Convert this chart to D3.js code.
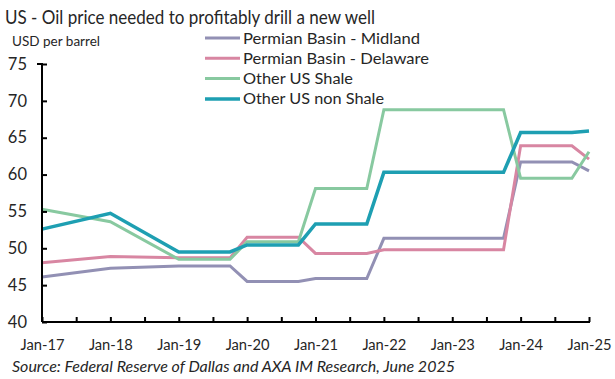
<!DOCTYPE html>
<html><head><meta charset="utf-8">
<script src="https://cdn.jsdelivr.net/npm/d3@7/dist/d3.min.js"></script>
<style>
body{margin:0;background:#fff;}
svg{display:block;font-family:Lato,"Open Sans",sans-serif;}
</style></head>
<body><svg id="c" width="615" height="379"></svg>
<script>
// Quarterly categories Q1-2017 .. Q1-2025 (null = no observation; line connects across gaps)
const quarters = [];
for (let yr = 2017; yr <= 2025; yr++) for (let q = 1; q <= 4; q++) { if (yr === 2025 && q > 1) break; quarters.push(yr + "Q" + q); }
const seriesNames = ["Permian Basin - Midland","Permian Basin - Delaware","Other US Shale","Other US non Shale"];
const midland   = [46.1,null,null,null, 47.3,null,null,null, 47.6,47.6,47.6,47.6, 45.5,45.5,45.5,45.5, 45.9,45.9,45.9,45.9, 51.35,51.35,51.35,51.35, 51.35,51.35,51.35,51.35, 61.7,61.7,61.7,61.7, 60.5];
const delaware  = [48.05,null,null,null, 48.9,null,null,null, 48.7,48.7,48.7,48.7, 51.5,51.5,51.5,51.5, 49.3,49.3,49.3,49.3, 49.8,49.8,49.8,49.8, 49.8,49.8,49.8,49.8, 63.9,63.9,63.9,63.9, 62.1];
const otherShale= [55.3,null,null,null, 53.6,null,null,null, 48.5,48.5,48.5,48.5, 50.9,50.9,50.9,50.9, 58.1,58.1,58.1,58.1, 68.8,68.8,68.8,68.8, 68.8,68.8,68.8,68.8, 59.5,59.5,59.5,59.5, 63.1];
const nonShale  = [52.6,null,null,null, 54.75,null,null,null, 49.5,49.5,49.5,49.5, 50.45,50.45,50.45,50.45, 53.3,53.3,53.3,53.3, 60.3,60.3,60.3,60.3, 60.3,60.3,60.3,60.3, 65.7,65.7,65.7,65.7, 65.9];
const yTicks = [40,45,50,55,60,65,70,75];
const xLabels = ["Jan-17","Jan-18","Jan-19","Jan-20","Jan-21","Jan-22","Jan-23","Jan-24","Jan-25"];
const colors = ["#9290b4","#d886a2","#88c9a0","#1e9fb2"];
const widths = [3,3,3,3.5];

const svg = d3.select("#c");
const x = d3.scalePoint().domain(quarters).range([42,589]);
const y = d3.scaleLinear().domain([40,75]).range([322,64]);

// title & unit
svg.append("text").attr("x",5).attr("y",24).attr("font-size",19).attr("fill","#262626")
  .attr("textLength",370).attr("lengthAdjust","spacingAndGlyphs")
  .text("US - Oil price needed to profitably drill a new well");
svg.append("text").attr("x",12).attr("y",46).attr("font-size",14).attr("fill","#262626")
  .attr("textLength",88).attr("lengthAdjust","spacingAndGlyphs").text("USD per barrel");

// lines
const all = [midland, delaware, otherShale, nonShale];
const line = d3.line().x(d=>x(d.q)).y(d=>y(d.v));
all.forEach((vals,i)=>{
  const pts = quarters.map((q,j)=>({q, v: vals[j]})).filter(d=>d.v!=null);
  svg.append("path").datum(pts).attr("d",line).attr("fill","none")
     .attr("stroke",colors[i]).attr("stroke-width",widths[i]).attr("stroke-linejoin","miter");
});

// y axis
const ya = svg.append("g").attr("transform","translate(42,0)")
  .call(d3.axisLeft(y).tickValues(yTicks).tickSize(-5).tickPadding(15));
ya.selectAll("text").attr("font-size",16.5).attr("fill","#262626").attr("font-family","Lato,sans-serif");

// x axis ticks (every half-year)
const xa = svg.append("g").attr("transform","translate(0,322)")
  .call(d3.axisBottom(x).tickValues(quarters.filter((q,i)=>i%2===0)).tickSize(-5).tickFormat(""));
const xl = svg.append("g").attr("transform","translate(0,322)")
  .call(d3.axisBottom(x).tickValues(quarters.filter((q,i)=>i%4===0)).tickSize(0).tickPadding(17)
  .tickFormat((q,i)=>xLabels[i]));
xl.select(".domain").remove();
xl.selectAll("text").attr("font-size",15.5).attr("fill","#262626").attr("font-family","Lato,sans-serif")
  .attr("textLength",44).attr("lengthAdjust","spacingAndGlyphs").attr("x",-22).attr("text-anchor","start");
[ya,xa].forEach(g=>{g.selectAll(".domain,line").attr("stroke","#000").attr("stroke-width",2);});
ya.select(".domain").attr("d","M-5,64H0V322");
xa.select(".domain").attr("d","M42,0H590");

// legend
const legendLens = [177,186,110,141];
const lg = svg.append("g");
seriesNames.forEach((n,i)=>{
  const yy = 38 + i*20.3;
  lg.append("line").attr("x1",205).attr("x2",240).attr("y1",yy).attr("y2",yy)
    .attr("stroke",colors[i]).attr("stroke-width",widths[i]);
  lg.append("text").attr("x",243).attr("y",yy+5.5).attr("font-size",16).attr("fill","#262626")
    .attr("textLength",legendLens[i]).attr("lengthAdjust","spacingAndGlyphs").text(n);
});

// source
svg.append("text").attr("x",12).attr("y",372).attr("font-size",15).attr("font-style","italic")
  .attr("fill","#262626").attr("textLength",443).attr("lengthAdjust","spacingAndGlyphs")
  .text("Source: Federal Reserve of Dallas and AXA IM Research, June 2025");
</script></body></html>
